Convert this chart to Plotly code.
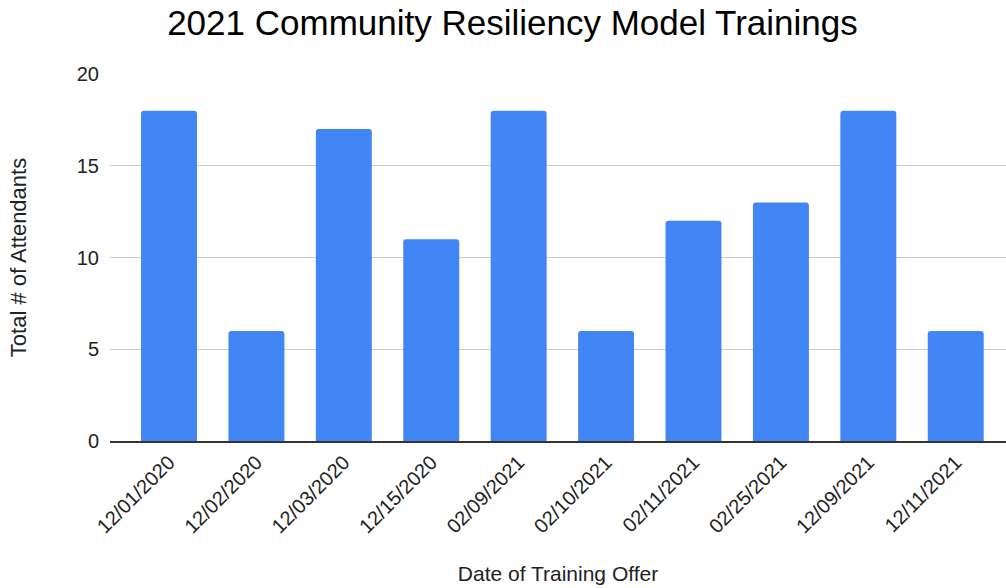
import plotly.graph_objects as go

# Training dates and attendance counts
dates = ["12/01/2020", "12/02/2020", "12/03/2020", "12/15/2020", "02/09/2021",
         "02/10/2021", "02/11/2021", "02/25/2021", "12/09/2021", "12/11/2021"]
attendants = [18, 6, 17, 11, 18, 6, 12, 13, 18, 6]

fig = go.Figure(
    go.Bar(
        x=dates,
        y=attendants,
        marker=dict(color="#4285F4", line=dict(width=0)),
    )
)

fig.update_layout(
    width=1006,
    height=588,
    paper_bgcolor="white",
    plot_bgcolor="white",
    font=dict(family="Liberation Sans, Arial, sans-serif", color="#222222"),
    title=dict(
        text="2021 Community Resiliency Model Trainings",
        x=0.5094, xanchor="center", y=0.961, yanchor="middle",
        font=dict(size=35, color="#000000"),
    ),
    margin=dict(l=110, r=0, t=74, b=147),
    bargap=0.36,
    barcornerradius=3,
    showlegend=False,
)

fig.update_xaxes(
    type="category",
    range=[-0.675, 9.575],
    tickangle=-45,
    tickfont=dict(size=20, color="#222222"),
    ticks="",
    showgrid=False,
    showline=True,
    linecolor="#333333",
    linewidth=1.5,
    automargin=False,
    title=dict(text="Date of Training Offer", font=dict(size=21, color="#222222"), standoff=30),
)

fig.update_yaxes(
    range=[0, 20],
    tickvals=[0, 5, 10, 15, 20],
    tickfont=dict(size=20, color="#222222"),
    ticks="",
    ticklabelstandoff=10,
    showgrid=True,
    gridcolor="#cccccc",
    gridwidth=1,
    zeroline=False,
    automargin=False,
    title=dict(text="Total # of Attendants", font=dict(size=22, color="#222222"), standoff=44),
)

# drop the default body margin so the figure fills the window exactly
fig.write_html(
    "out.html",
    config={"displayModeBar": False},
    post_script="document.body.style.margin='0px';",
)
